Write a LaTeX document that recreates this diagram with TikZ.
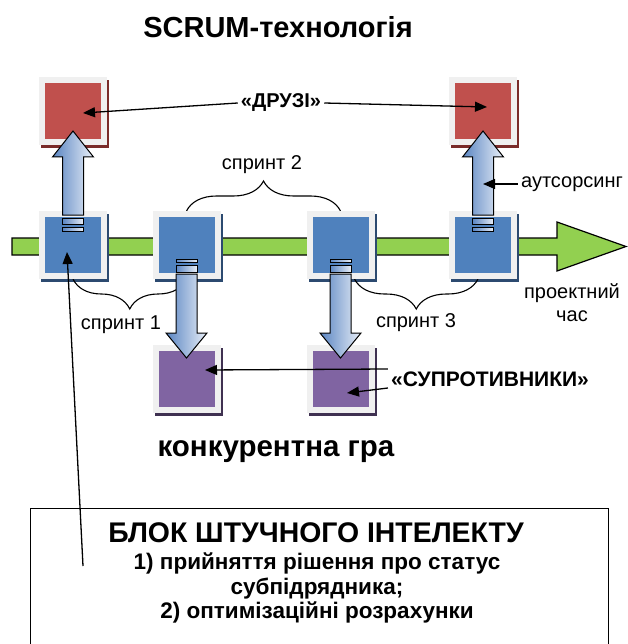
\documentclass[tikz,border=0pt]{standalone}
\usepackage{fontspec}
\setmainfont{Liberation Sans}
\usetikzlibrary{arrows.meta,calc,decorations.pathreplacing}
\definecolor{tileframe}{HTML}{F0F0F0}
\definecolor{tileblue}{HTML}{4F81BD}
\definecolor{tilered}{HTML}{C0504D}
\definecolor{tilepurple}{HTML}{8064A2}
\definecolor{shblue}{HTML}{2C4A70}
\definecolor{shred}{HTML}{7A2C2A}
\definecolor{shpurple}{HTML}{3F3151}
\definecolor{tgreen}{HTML}{92D050}
\definecolor{arrowdark}{HTML}{5A85C2}
\definecolor{arrowlight}{HTML}{E8EEF7}
\pgfdeclarelayer{bg}
\pgfsetlayers{bg,main}
\newcommand\upblock[2]{%
  \path[blockarrow] let \p1=(#1.north), \p2=(#2.south) in
    (\x1-10.5pt,\y1-4pt) -- (\x1-10.5pt,\y2-12pt) -- (\x1-20.5pt,\y2-12pt) --
    (\x1,\y2+14pt) -- (\x1+20.5pt,\y2-12pt) -- (\x1+10.5pt,\y2-12pt) --
    (\x1+10.5pt,\y1-4pt) -- cycle;
  \path[blockarrow] let \p1=(#1.north) in (\x1-10.5pt,\y1-7pt) rectangle (\x1+10.5pt,\y1-13pt);
  \path[blockarrow] let \p1=(#1.north) in (\x1-10.5pt,\y1-16pt) rectangle (\x1+10.5pt,\y1-20pt);
}
\newcommand\downblock[2]{%
  \path[blockarrow] let \p1=(#1.south), \p2=(#2.north) in
    (\x1-10.5pt,\y1+5pt) -- (\x1-10.5pt,\y2+12pt) -- (\x1-20.5pt,\y2+12pt) --
    (\x1,\y2-13pt) -- (\x1+20.5pt,\y2+12pt) -- (\x1+10.5pt,\y2+12pt) --
    (\x1+10.5pt,\y1+5pt) -- cycle;
  \path[blockarrow] let \p1=(#1.south) in (\x1-10.5pt,\y1+7pt) rectangle (\x1+10.5pt,\y1+14pt);
  \path[blockarrow] let \p1=(#1.south) in (\x1-10.5pt,\y1+17pt) rectangle (\x1+10.5pt,\y1+20pt);
}
\begin{document}
\begin{tikzpicture}[x=1pt,y=-1pt,
  tile/.style={minimum size=62pt, inner sep=0pt, outer sep=3pt, line width=6pt, draw=tileframe, fill=#1},
  lbl/.style={font=\fontsize{20}{23}\selectfont, inner sep=3pt},
  blbl/.style={font=\bfseries\fontsize{20}{23}\selectfont, inner sep=3pt},
  conn/.style={line width=1.3pt, -{Triangle[length=12pt,width=10pt]}},
  sbrace/.style={decorate, decoration={brace, amplitude=30pt}, line width=1.1pt},
  sbracem/.style={decorate, decoration={brace, mirror, amplitude=30pt}, line width=1.1pt},
  blockarrow/.style={draw=black, line width=1pt, left color=arrowdark, right color=arrowlight}
]
\path[use as bounding box] (0,0) rectangle (627,644);
\clip (0,0) rectangle (627,644);

% tiles
\node[tile=tileblue] (b1) at (73,245) {};
\node[tile=tileblue] (b2) at (186.5,245) {};
\node[tile=tileblue] (b3) at (340.5,245) {};
\node[tile=tileblue] (b4) at (483,245) {};
\node[tile=tilered] (r1) at (73,111) {};
\node[tile=tilered] (r2) at (483,111) {};
\node[tile=tilepurple] (p1) at (187,379) {};
\node[tile=tilepurple] (p2) at (341,379) {};

\begin{pgfonlayer}{bg}
  \draw[line width=1.2pt, fill=tgreen] (12,238) -- (557,238) -- (557,222) -- (626,246.5)
     -- (557,271) -- (557,255) -- (12,255) -- cycle;
  \foreach \n/\c in {b1/shblue,b2/shblue,b3/shblue,b4/shblue,r1/shred,r2/shred,p1/shpurple,p2/shpurple}
    \fill[\c] ([shift={(2,3)}]\n.north west) rectangle ([shift={(2,3)}]\n.south east);
  \draw[sbracem] (b1.south) -- (b2.south);
  \draw[sbrace] (b2.north) -- (b3.north);
  \draw[sbracem] ([xshift=14pt]b3.south) -- ([xshift=-5pt]b4.south);
\end{pgfonlayer}

% block arrows
\upblock{b1}{r1}
\upblock{b4}{r2}
\downblock{b2}{p1}
\downblock{b3}{p2}

% texts
\node[font=\bfseries\fontsize{29}{33}\selectfont] (title) at (278,27) {SCRUM-технологія};
\node[font=\bfseries\fontsize{29.5}{33}\selectfont] (game) at (276,452) {конкурентна гра};
\node[lbl] (s1) at (121,325) {спринт 1};
\node[lbl] (s2) at (262,165) {спринт 2};
\node[lbl] (s3) at (416,323) {спринт 3};
\node[lbl, align=center] (ptime) at (572,303) {проектний\\час};
\node[lbl] (outs) at (572,184) {аутсорсинг};
\node[blbl] (druzi) at (281,103) {«ДРУЗІ»};
\node[font=\bfseries\fontsize{21}{24}\selectfont, inner sep=3pt] (supr) at (490,379) {«СУПРОТИВНИКИ»};

% AI block
\node[draw, line width=1.2pt, minimum width=578pt, minimum height=150pt, anchor=north west, inner sep=0pt] (ai) at (30,508) {};
\node[font=\bfseries\fontsize{28.4}{31}\selectfont] (aititle) at (316,533) {БЛОК ШТУЧНОГО ІНТЕЛЕКТУ};
\node[font=\bfseries\fontsize{22.5}{24.5}\selectfont, align=center] (aitext) at (317,588) {1) прийняття рішення про статус\\субпідрядника;\\2) оптимізаційні розрахунки};

% connectors
\draw[conn] (druzi.west) -- ([shift={(10,2)}]r1.center);
\draw[conn] (druzi.east) -- ([shift={(4,-4)}]r2.center);
\draw[conn] (outs.west) -- (outs.west -| r2.center);
\draw[conn] ([yshift=10pt]supr.west) -- ([shift={(18,-9)}]p1.center);
\draw[conn] ([yshift=-9pt]supr.west) -- ([shift={(6,14)}]p2.center);
\coordinate (aiP) at (83,566);
\draw[conn] (aiP) -- ([shift={(-6,7)}]b1.center);
\end{tikzpicture}
\end{document}
